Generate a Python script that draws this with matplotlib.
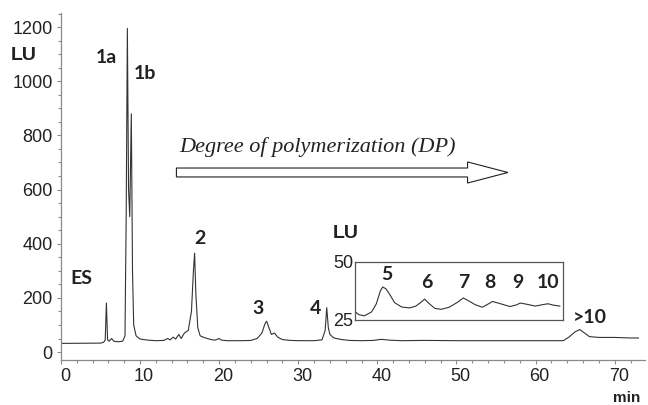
import numpy as np
import matplotlib
matplotlib.use("Agg")
import matplotlib.pyplot as plt
import matplotlib.transforms as mtransforms
from matplotlib.patches import FancyArrow
from matplotlib.ticker import MultipleLocator

# main chromatogram (min, LU)
time_min = [0.0, 5.0, 5.4, 5.6, 5.75, 5.9, 6.1, 6.4, 6.7, 7.2, 7.8, 8.1, 8.25, 8.4,
            8.55, 8.7, 8.9, 9.05, 9.2, 9.5, 10.0, 11.0, 12.0, 13.0, 13.5, 13.8, 14.2,
            14.5, 14.9, 15.2, 15.6, 16.1, 16.5, 16.75, 16.9, 17.05, 17.3, 17.6, 18.0,
            18.5, 19.0, 19.5, 20.0, 20.3, 21.0, 22.0, 23.0, 24.0, 24.8, 25.4, 25.8,
            26.0, 26.3, 26.6, 27.0, 27.4, 28.0, 29.0, 30.0, 32.0, 33.0, 33.4, 33.6,
            33.8, 34.0, 34.5, 35.5, 36.5, 38.0, 39.5, 40.5, 41.5, 43.0, 46.0, 50.0,
            55.0, 60.0, 63.5, 64.2, 65.0, 65.6, 66.2, 66.8, 68.0, 70.0, 72.0, 73.0]
signal_lu = [32, 33, 36, 45, 181, 45, 40, 50, 40, 38, 40, 60, 500, 1195,
             600, 500, 880, 300, 100, 60, 48, 44, 42, 43, 50, 45, 55,
             48, 65, 50, 70, 80, 150, 300, 365, 220, 90, 60, 55,
             50, 46, 44, 50, 44, 42, 42, 42, 43, 50, 70, 105,
             114, 90, 65, 70, 55, 46, 43, 42, 42, 45, 80, 164,
             90, 65, 52, 46, 43, 42, 43, 47, 44, 42, 43, 42,
             42, 42, 42, 55, 75, 83, 70, 57, 54, 54, 52, 52]

# zoomed inset, DP 5-10 region (min, LU)
inset_time = [37.1, 37.6, 38.3, 39.2, 39.8, 40.3, 40.6, 41.0, 41.5, 42.1, 43.0, 44.0,
              44.8, 45.5, 45.9, 46.5, 47.2, 48.0, 49.0, 50.0, 50.8, 51.5, 52.3, 53.2,
              54.0, 54.5, 55.3, 56.7, 57.5, 58.0, 58.8, 59.9, 60.8, 61.5, 62.2, 63.0]
inset_lu = [28.6, 27.3, 26.8, 28.5, 32.0, 37.5, 39.2, 38.5, 36.0, 32.5, 30.6, 30.2,
            31.0, 32.8, 34.0, 32.0, 30.0, 29.6, 30.5, 32.5, 34.5, 33.2, 31.6, 30.5,
            32.0, 33.0, 32.2, 30.8, 31.5, 32.3, 31.8, 31.0, 31.6, 32.0, 31.4, 31.0]

peak_labels = ["ES", "1a", "1b", "2", "3", "4", ">10"]
peak_label_x = [2.6, 5.7, 10.6, 17.6, 24.9, 32.2, 66.8]
peak_label_y = [270, 1087, 1030, 421, 162, 162, 127]

dp_labels = ["5", "6", "7", "8", "9", "10"]
dp_label_x = [41.1, 46.2, 50.8, 54.2, 57.7, 61.5]
dp_label_y = [44.4, 41.0, 41.0, 41.0, 41.0, 41.0]

axis_col = "#8a8a8a"
txt_col = "#222222"
line_col = "#333333"

fig = plt.figure(figsize=(6.48, 4.05), dpi=100)
ax = fig.add_axes([0.094, 0.111, 0.901, 0.857])

ax.plot(time_min, signal_lu, color=line_col, lw=0.8)
ax.set_xlim(0, 73.8)
ax.set_ylim(-29.5, 1252)

for s in ["top", "right"]:
    ax.spines[s].set_visible(False)
for s in ["left", "bottom"]:
    ax.spines[s].set_color(axis_col)
    ax.spines[s].set_linewidth(0.9)

ax.xaxis.set_major_locator(MultipleLocator(10))
ax.xaxis.set_minor_locator(MultipleLocator(2))
ax.yaxis.set_major_locator(MultipleLocator(200))
ax.yaxis.set_minor_locator(MultipleLocator(50))
ax.tick_params(which="both", direction="out", color=axis_col, width=0.8)
ax.tick_params(which="major", length=3)
ax.tick_params(which="minor", length=2.5)
ax.tick_params(axis="x", which="major", labelsize=13, labelcolor=txt_col, pad=3)
ax.tick_params(axis="y", which="major", labelsize=13, labelcolor=txt_col, pad=3)
shift = mtransforms.ScaledTranslation(4 / 100, 0, fig.dpi_scale_trans)
for lab in ax.get_xticklabels():
    lab.set_fontfamily("Liberation Sans")
    lab.set_transform(lab.get_transform() + shift)
for lab in ax.get_yticklabels():
    lab.set_fontfamily("Liberation Sans")

for lab, x, y in zip(peak_labels, peak_label_x, peak_label_y):
    ax.text(x, y, lab, fontsize=14, fontweight="bold", family="Lato",
            color=txt_col, ha="center", va="center")

# DP arrow
ax.add_patch(FancyArrow(14.6, 663, 41.9, 0, width=33, head_width=78,
                        head_length=5.1, length_includes_head=True,
                        facecolor="white", edgecolor="#222222", lw=0.8))
ax.text(14.9, 757, "Degree of polymerization (DP)", fontsize=16,
        family="Liberation Serif", style="italic", color=txt_col,
        ha="left", va="center")

fig.text(23.5 / 648, 1 - 55 / 405, "LU", fontsize=14, fontweight="bold",
         family="Liberation Sans", color=txt_col, ha="center", va="center")
fig.text(627 / 648, 1 - 398 / 405, "min", fontsize=11, fontweight="bold",
         family="Liberation Sans", color=txt_col, ha="center", va="center")

# inset
axi = fig.add_axes([355 / 648, 1 - 320 / 405, 208 / 648, 58 / 405])
axi.plot(inset_time, inset_lu, color=line_col, lw=0.8)
axi.set_xlim(37.1, 63.4)
axi.set_ylim(25, 50)
axi.set_xticks([])
axi.set_yticks([25, 50])
axi.tick_params(length=0, pad=1, labelsize=13, labelcolor=txt_col)
for lab in axi.get_yticklabels():
    lab.set_fontfamily("Liberation Sans")
for s in axi.spines.values():
    s.set_color("#555555")
    s.set_linewidth(0.9)
for lab, x, y in zip(dp_labels, dp_label_x, dp_label_y):
    axi.text(x, y, lab, fontsize=14, fontweight="bold", family="Lato",
             color=txt_col, ha="center", va="center")
fig.text(346 / 648, 1 - 234 / 405, "LU", fontsize=14, fontweight="bold",
         family="Liberation Sans", color=txt_col, ha="center", va="center")

fig.savefig("out.png", dpi=100)
